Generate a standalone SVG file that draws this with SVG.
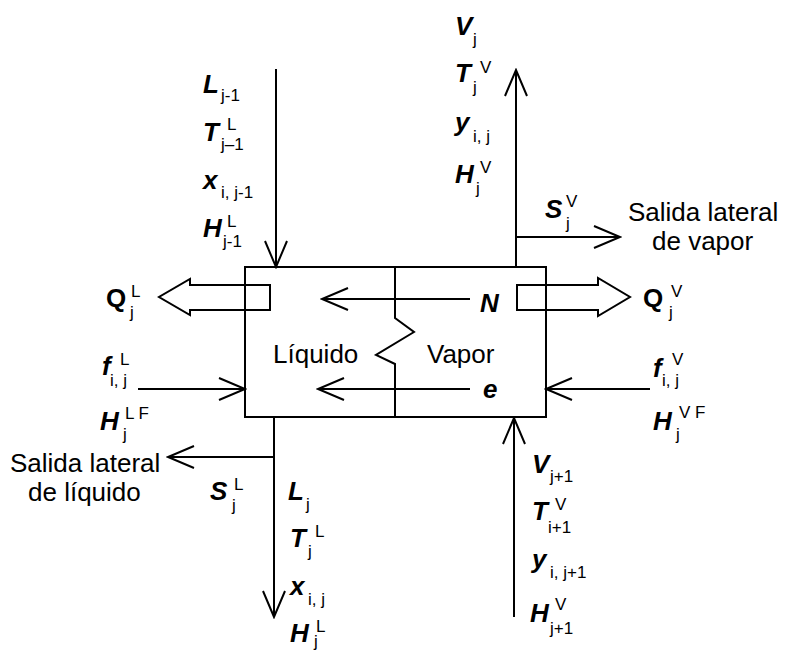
<svg xmlns="http://www.w3.org/2000/svg" width="785" height="652" viewBox="0 0 785 652">
<style>
.v{font-family:"Liberation Sans",Arial,sans-serif;font-style:italic;font-weight:bold;font-size:26px;fill:#000}
.q{font-family:"Liberation Sans",Arial,sans-serif;font-weight:bold;font-size:26px;fill:#000}
.s{font-family:"Liberation Sans",Arial,sans-serif;font-size:17px;fill:#000}
.t{font-family:"Liberation Sans",Arial,sans-serif;font-size:26px;fill:#000}
.ln{stroke:#000;stroke-width:2;fill:none}
.ar{stroke:#000;stroke-width:2;fill:none;marker-end:url(#arr)}
</style>
<defs>
<marker id="arr" markerUnits="userSpaceOnUse" markerWidth="30" markerHeight="26" viewBox="0 0 30 26" refX="28" refY="13" orient="auto">
<path d="M2,2 L28,13 L2,24" fill="none" stroke="#000" stroke-width="2"/>
</marker>
</defs>
<rect width="785" height="652" fill="#fff"/>

<g id="stage">
<rect x="245" y="267" width="301" height="150" class="ln"/>
<polyline class="ln" points="395,267 395,318 414,332 376,355 395,364 395,417"/>
<text class="t" x="273" y="363">Líquido</text>
<text class="t" x="427" y="363">Vapor</text>
<text class="v" x="480" y="312">N</text>
<text class="v" x="483" y="398">e</text>
</g>

<g id="connectors">
<line class="ar" x1="276" y1="69" x2="276" y2="267"/>
<line class="ar" x1="516" y1="267" x2="516" y2="70"/>
<line class="ar" x1="516" y1="237" x2="620" y2="237"/>
<line class="ar" x1="138" y1="389" x2="245" y2="389"/>
<line class="ar" x1="650" y1="389" x2="546" y2="389"/>
<line class="ar" x1="274" y1="417" x2="274" y2="617"/>
<line class="ar" x1="274" y1="457" x2="168" y2="457"/>
<line class="ar" x1="514" y1="617" x2="514" y2="418"/>
<line class="ar" x1="470" y1="299" x2="322" y2="299"/>
<line class="ar" x1="470" y1="389" x2="318" y2="389"/>
<polygon class="ln" points="270,285 190,285 190,279 159,297 190,315 190,310 270,310"/>
<polygon class="ln" points="517,285 598,285 598,278 630,297 598,316 598,310 517,310"/>
</g>

<g id="feed-top">
<text class="v" x="203" y="93">L</text><text class="s" x="221" y="101">j-1</text>
<text class="v" x="203" y="141">T</text><text class="s" x="227" y="130">L</text><text class="s" x="221" y="150">j–1</text>
<text class="v" x="203" y="189">x</text><text class="s" x="221" y="198">i, j-1</text>
<text class="v" x="203" y="237">H</text><text class="s" x="227" y="227">L</text><text class="s" x="223" y="247">j-1</text>
</g>

<g id="vapor-out">
<text class="v" x="455" y="35">V</text><text class="s" x="473" y="45">j</text>
<text class="v" x="455" y="82">T</text><text class="s" x="480" y="73">V</text><text class="s" x="473" y="93">j</text>
<text class="v" x="455" y="131">y</text><text class="s" x="473" y="142">i, j</text>
<text class="v" x="455" y="183">H</text><text class="s" x="480" y="173">V</text><text class="s" x="476" y="194">j</text>
</g>

<g id="vapor-side">
<text class="v" x="545" y="218">S</text><text class="s" x="566" y="207">V</text><text class="s" x="566" y="229">j</text>
<text class="t" x="628" y="221">Salida lateral</text>
<text class="t" x="652" y="250">de vapor</text>
</g>

<g id="heat-liquid">
<text class="q" x="106" y="307">Q</text><text class="s" x="131" y="297">L</text><text class="s" x="130" y="318">j</text>
</g>

<g id="heat-vapor">
<text class="q" x="643" y="307">Q</text><text class="s" x="671" y="297">V</text><text class="s" x="669" y="318">j</text>
</g>

<g id="feed-liquid">
<text class="v" x="102" y="375">f</text><text class="s" x="120" y="365">L</text><text class="s" x="110" y="386">i, j</text>
<text class="v" x="100" y="430">H</text><text class="s" x="125" y="419">L F</text><text class="s" x="123" y="440">j</text>
</g>

<g id="feed-vapor">
<text class="v" x="653" y="377">f</text><text class="s" x="672" y="365">V</text><text class="s" x="662" y="386">i, j</text>
<text class="v" x="653" y="430">H</text><text class="s" x="679" y="418">V F</text><text class="s" x="676" y="440">j</text>
</g>

<g id="liquid-side">
<text class="t" x="10" y="472">Salida lateral</text>
<text class="t" x="28" y="501">de líquido</text>
<text class="v" x="210" y="500">S</text><text class="s" x="234" y="490">L</text><text class="s" x="232" y="511">j</text>
</g>

<g id="liquid-out">
<text class="v" x="288" y="500">L</text><text class="s" x="306" y="510">j</text>
<text class="v" x="290" y="547">T</text><text class="s" x="315" y="537">L</text><text class="s" x="308" y="557">j</text>
<text class="v" x="290" y="595">x</text><text class="s" x="308" y="605">i, j</text>
<text class="v" x="290" y="642">H</text><text class="s" x="316" y="632">L</text><text class="s" x="314" y="647">j</text>
</g>

<g id="vapor-in">
<text class="v" x="532" y="473">V</text><text class="s" x="550" y="482">j+1</text>
<text class="v" x="532" y="520">T</text><text class="s" x="555" y="510">V</text><text class="s" x="548" y="533">i+1</text>
<text class="v" x="532" y="568">y</text><text class="s" x="550" y="578">i, j+1</text>
<text class="v" x="530" y="622">H</text><text class="s" x="555" y="610">V</text><text class="s" x="550" y="634">j+1</text>
</g>
</svg>
